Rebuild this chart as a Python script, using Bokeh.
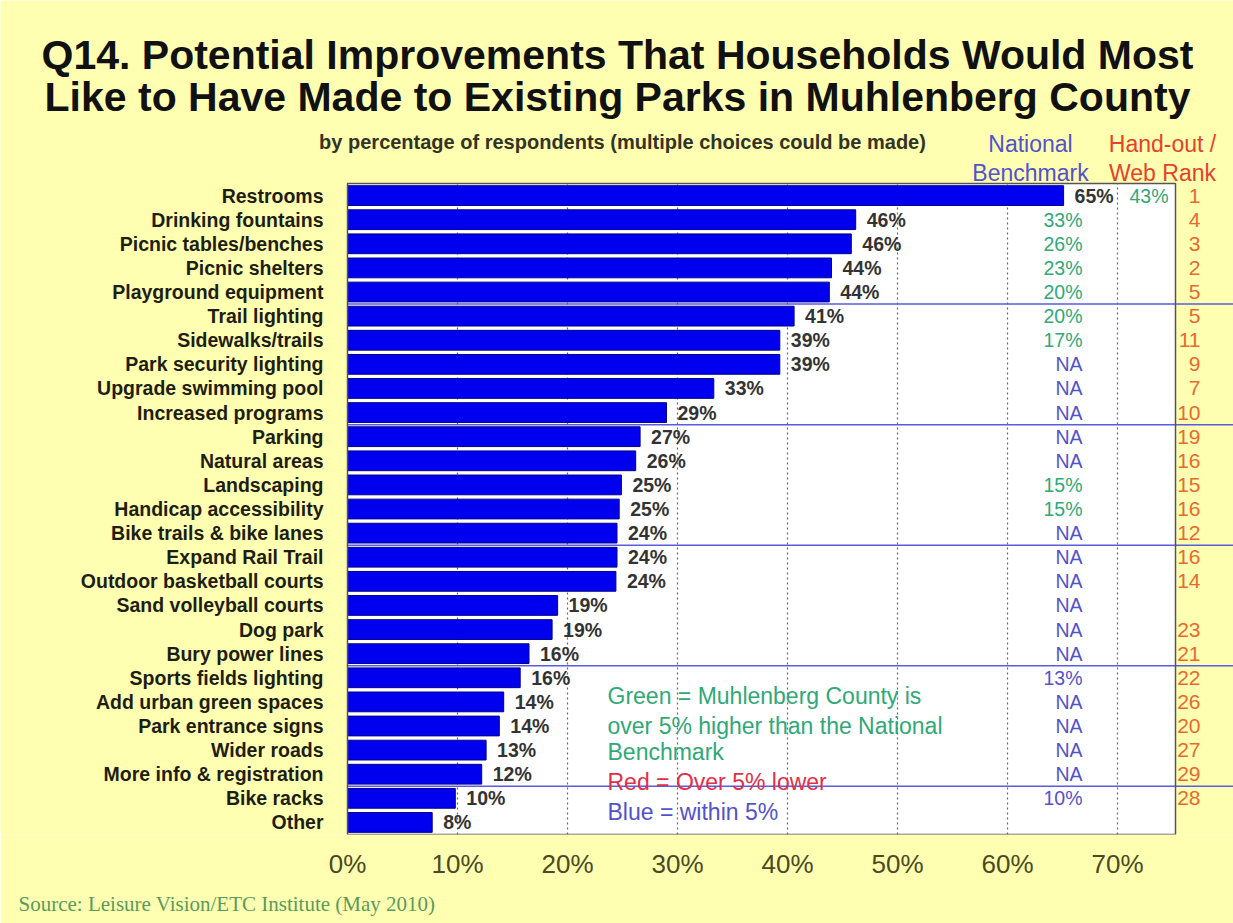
from bokeh.plotting import figure
from bokeh.models import Range1d, FixedTicker, PrintfTickFormatter, Title, ColumnDataSource
from bokeh.core.properties import value
from bokeh.embed import file_html
from bokeh.resources import INLINE

# ---------------- data ----------------
categories = [
    "Restrooms", "Drinking fountains", "Picnic tables/benches", "Picnic shelters",
    "Playground equipment", "Trail lighting", "Sidewalks/trails", "Park security lighting",
    "Upgrade swimming pool", "Increased programs", "Parking", "Natural areas",
    "Landscaping", "Handicap accessibility", "Bike trails & bike lanes", "Expand Rail Trail",
    "Outdoor basketball courts", "Sand volleyball courts", "Dog park", "Bury power lines",
    "Sports fields lighting", "Add urban green spaces", "Park entrance signs", "Wider roads",
    "More info & registration", "Bike racks", "Other",
]
pct_values = [65.1, 46.2, 45.8, 44.0, 43.8, 40.6, 39.3, 39.3, 33.3, 29.0, 26.6, 26.2,
              24.9, 24.7, 24.5, 24.5, 24.4, 19.1, 18.6, 16.5, 15.7, 14.2, 13.8, 12.6,
              12.2, 9.8, 7.7]
pct_labels = ["65%", "46%", "46%", "44%", "44%", "41%", "39%", "39%", "33%", "29%", "27%",
              "26%", "25%", "25%", "24%", "24%", "24%", "19%", "19%", "16%", "16%", "14%",
              "14%", "13%", "12%", "10%", "8%"]
benchmark = [43, 33, 26, 23, 20, 20, 17, "NA", "NA", "NA", "NA", "NA", 15, 15, "NA", "NA",
             "NA", "NA", "NA", "NA", 13, "NA", "NA", "NA", "NA", 10, None]
ranks = [1, 4, 3, 2, 5, 5, 11, 9, 7, 10, 19, 16, 15, 16, 12, 16, 14, None, 23, 21, 22, 26,
         20, 27, 29, 28, None]
x_ticks = [0, 10, 20, 30, 40, 50, 60, 70]
grid_ticks = [10, 20, 30, 40, 50, 60, 70]
group_size = 5

title_lines = ["Q14. Potential Improvements That Households Would Most",
               "Like to Have Made to Existing Parks in Muhlenberg County"]
subtitle = "by percentage of respondents (multiple choices could be made)"
legend_lines = [("Green = Muhlenberg County is", "green"),
                ("over 5% higher than the National", "green"),
                ("Benchmark", "green"),
                ("Red = Over 5% lower", "red"),
                ("Blue = within 5%", "blue")]
source_text = "Source:  Leisure Vision/ETC Institute (May 2010)"

# ---------------- style ----------------
YELLOW = "#FFFFB2"
BAR = "#0000EE"
GREEN = "#30A878"
RED = "#E03048"
BLUE = "#5252CC"
ORANGE = "#E8692F"
SEP = "#5B5BE0"
FONT = value("Liberation Sans")
COLORS = {"green": GREEN, "red": RED, "blue": BLUE}

W, H = 1233, 923
X0_PX, PX_PER_PCT = 347, 11.0
TOP_PX, BOTTOM_PX = 185, 843
N = len(categories)
PITCH = (BOTTOM_PX - TOP_PX) / N
RIGHT_PX = 1175


def px(x):
    return (x - X0_PX) / PX_PER_PCT


def py(y):
    return (N - 0.5) + (TOP_PX - y) / PITCH


x_range = Range1d(px(0), px(W))
y_range = Range1d(-0.5, py(0))
plot_right = px(RIGHT_PX)

p = figure(width=W, height=H, x_range=x_range, y_range=y_range,
           output_backend="svg", toolbar_location=None, y_axis_location=None,
           min_border_left=0, min_border_right=0, min_border_top=0,
           min_border_bottom=H - BOTTOM_PX,
           background_fill_color=YELLOW, border_fill_color=YELLOW,
           outline_line_color=None)
p.xgrid.visible = False
p.ygrid.visible = False

ypos = [N - 1 - i for i in range(N)]

# plot area
p.quad(left=[0], right=[plot_right], bottom=[-0.5], top=[N - 0.5],
       fill_color="white", line_color=None)
p.segment(x0=grid_ticks, x1=grid_ticks, y0=-0.5, y1=N - 0.5,
          line_color="#666666", line_width=1.2, line_dash="2 3")
sep_y = [N - 0.5 - k for k in range(group_size, N, group_size)]
p.segment(x0=0, x1=x_range.end, y0=sep_y, y1=sep_y, line_color=SEP, line_width=1.5)

# bars
src = ColumnDataSource(dict(y=ypos, v=pct_values, lab=pct_labels, cat=categories))
p.hbar(y="y", right="v", left=0, height=0.82, source=src,
       fill_color=BAR, line_color="#00008A", line_width=1)
p.text(x="v", y="y", text="lab", source=src, x_offset=11,
       text_baseline="middle", text_align="left", text_font=FONT,
       text_font_style="bold", text_font_size="19.5px", text_color="#333333")

# border
p.quad(left=[0], right=[plot_right], bottom=[-0.5], top=[N - 0.5],
       fill_color=None, line_color="#555555", line_width=1.5)

# category labels
p.text(x=px(323), y="y", text="cat", source=src, text_align="right",
       text_baseline="middle", text_font=FONT, text_font_style="bold",
       text_font_size="19.5px", text_color="#1E1E10")

# benchmark column
bx, by, bt, bc = [], [], [], []
for i, b in enumerate(benchmark):
    if b is None:
        continue
    mine = int(pct_labels[i].rstrip("%"))
    if b == "NA":
        col, txt = BLUE, "NA"
    else:
        d = mine - b
        col = GREEN if d > 5 else (RED if d < -5 else BLUE)
        txt = f"{b}%"
    bx.append(px(1168) if pct_values[i] > 58 else px(1082))
    by.append(ypos[i])
    bt.append(txt)
    bc.append(col)
p.text(x=bx, y=by, text=bt, text_color=bc, text_align="right",
       text_baseline="middle", text_font=FONT, text_font_size="19.5px")

# rank column
rx, ry, rt = [], [], []
for i, r in enumerate(ranks):
    if r is None:
        continue
    rx.append(px(1200))
    ry.append(ypos[i])
    rt.append(str(r))
p.text(x=rx, y=ry, text=rt, text_color=ORANGE, text_align="right",
       text_baseline="middle", text_font=FONT, text_font_size="21px")

# headings
p.text(x=[px(617)] * 2, y=[py(55), py(98)], text=title_lines, text_align="center",
       text_baseline="middle", text_font=FONT, text_font_style="bold",
       text_font_size="41px", text_color="#111111")
p.text(x=[px(622)], y=[py(143)], text=[subtitle], text_align="center",
       text_baseline="middle", text_font=FONT, text_font_style="bold",
       text_font_size="20px", text_color="#333322")
p.text(x=[px(1030)] * 2, y=[py(145), py(174)], text=["National", "Benchmark"],
       text_align="center", text_baseline="middle", text_font=FONT,
       text_font_size="23px", text_color=BLUE)
p.text(x=[px(1162)] * 2, y=[py(145), py(174)], text=["Hand-out /", "Web Rank"],
       text_align="center", text_baseline="middle", text_font=FONT,
       text_font_size="23px", text_color="#E8402A")

# legend text
ly = [703, 733, 760, 790, 820]
p.text(x=[px(607)] * len(legend_lines), y=[py(v) for v in ly],
       text=[t for t, _ in legend_lines], text_color=[COLORS[c] for _, c in legend_lines],
       text_align="left", text_baseline="middle", text_font=FONT, text_font_size="23px")

# x axis
ax = p.xaxis[0]
ax.ticker = FixedTicker(ticks=x_ticks)
ax.formatter = PrintfTickFormatter(format="%d%%")
ax.axis_line_color = None
ax.major_tick_line_color = None
ax.minor_tick_line_color = None
ax.major_tick_out = 0
ax.major_label_standoff = 14
ax.major_label_text_font = "Liberation Sans"
ax.major_label_text_font_size = "26px"
ax.major_label_text_color = "#4A4A1E"

p.add_layout(Title(text=source_text, align="left", offset=18, standoff=16,
                   text_font="Liberation Serif", text_font_size="21px",
                   text_font_style="normal", text_color="#5A9A5A"), "below")

open("out.html", "w").write(file_html(p, INLINE))
